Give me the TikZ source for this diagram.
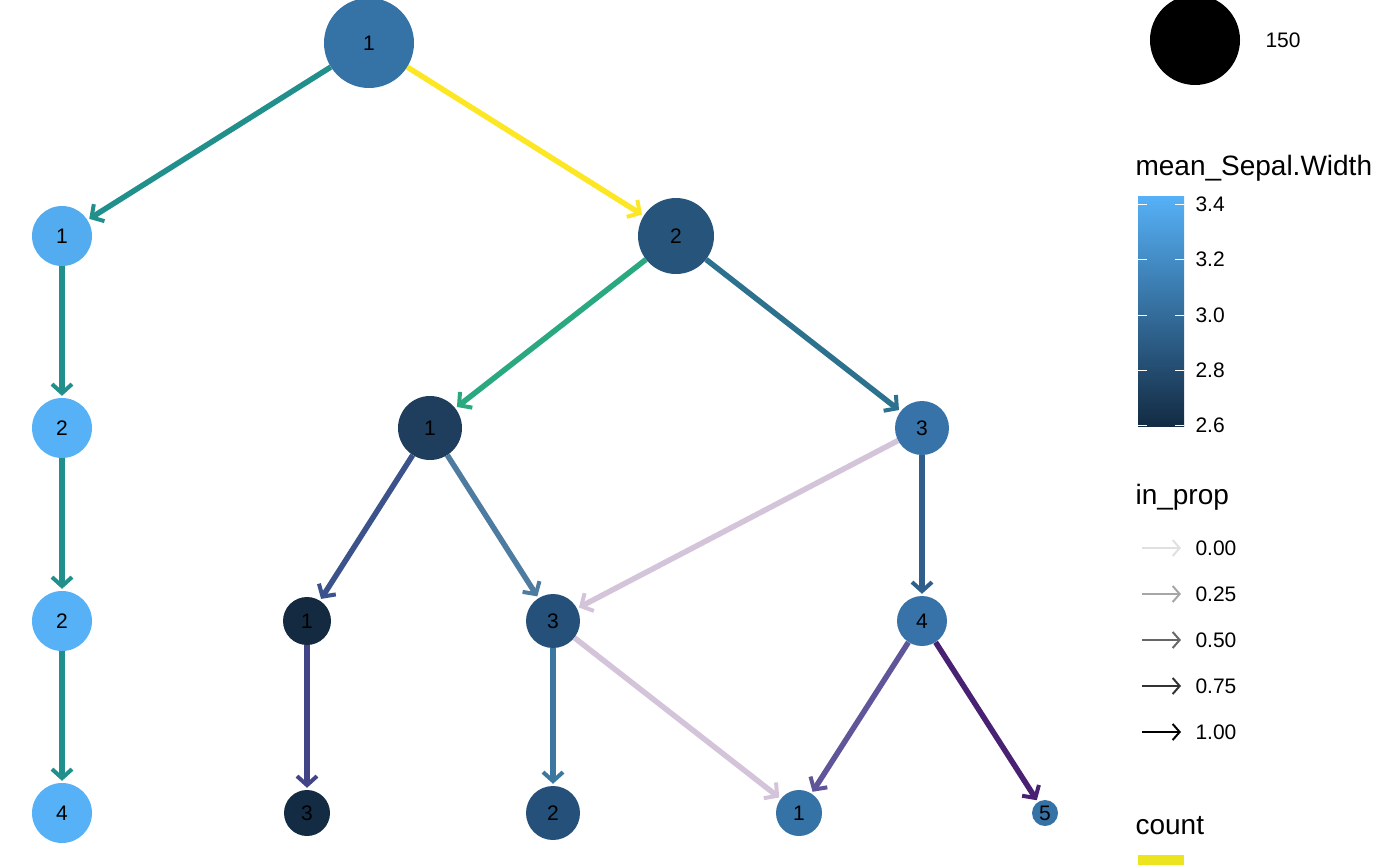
\documentclass[tikz,border=0pt]{standalone}
\usepackage{fontspec}
\setmainfont{Liberation Sans}
\usetikzlibrary{arrows.meta,backgrounds}
\definecolor{ca}{HTML}{3572A5}\definecolor{cl}{HTML}{56B1F7}
\definecolor{nb2}{RGB}{39,84,122}\definecolor{nc2}{RGB}{31,61,92}
\definecolor{nc3}{RGB}{55,115,168}\definecolor{nd2}{RGB}{20,42,64}
\definecolor{nd3}{RGB}{36,80,122}\definecolor{ne2}{RGB}{19,43,67}
\definecolor{eteal}{RGB}{33,144,140}\definecolor{eyel}{RGB}{253,231,37}
\definecolor{egrn}{RGB}{42,168,128}\definecolor{eb23}{RGB}{44,114,142}
\definecolor{ec21}{RGB}{59,82,139}\definecolor{ec23}{RGB}{78,124,160}
\definecolor{elav}{RGB}{212,196,218}\definecolor{ec34}{RGB}{47,95,138}
\definecolor{ed2}{RGB}{65,68,135}\definecolor{ed3}{RGB}{60,119,160}
\definecolor{ed41}{RGB}{95,86,154}\definecolor{ed45}{RGB}{72,33,115}
\definecolor{cyel}{RGB}{236,228,30}
\begin{document}
\begin{tikzpicture}[x=1pt,y=-1pt,
  nd/.style={circle,inner sep=0pt,font=\fontsize{21}{21}\selectfont},
  ed/.style={line width=5.5pt,-{Straight Barb[length=9pt,width=20pt,line width=4pt]},shorten >=2pt},
  lab/.style={anchor=west,font=\fontsize{21}{21}\selectfont},
  ttl/.style={anchor=west,font=\fontsize{28}{28}\selectfont}]
\useasboundingbox (0,0) rectangle (1400,865);
\node[nd,fill=ca,minimum size=90pt] (a) at (369,43) {1};
\node[nd,fill=cl!92!ca,minimum size=60pt] (b1) at (62,236) {1};
\node[nd,fill=nb2,minimum size=76pt] (b2) at (676,236) {2};
\node[nd,fill=cl,minimum size=60pt] (c1) at (62,428) {2};
\node[nd,fill=nc2,minimum size=64pt] (c2) at (430,428) {1};
\node[nd,fill=nc3,minimum size=54pt] (c3) at (922,428) {3};
\node[nd,fill=cl,minimum size=60pt] (d1) at (62,621) {2};
\node[nd,fill=nd2,minimum size=48pt] (d2) at (307,621) {1};
\node[nd,fill=nd3,minimum size=54pt] (d3) at (553,621) {3};
\node[nd,fill=nc3,minimum size=50pt] (d4) at (922,621) {4};
\node[nd,fill=cl,minimum size=60pt] (e1) at (62,813) {4};
\node[nd,fill=ne2,minimum size=46pt] (e2) at (307,813) {3};
\node[nd,fill=nd3,minimum size=54pt] (e3) at (553,813) {2};
\node[nd,fill=ca,minimum size=46pt] (e4) at (799,813) {1};
\node[nd,fill=ca,minimum size=26pt] (e5) at (1045,813) {5};
\begin{scope}[on background layer]
\draw[ed,color=eteal] (a) -- (b1);
\draw[ed,color=eyel] (a) -- (b2);
\draw[ed,color=eteal] (b1) -- (c1);
\draw[ed,color=egrn] (b2) -- (c2);
\draw[ed,color=eb23] (b2) -- (c3);
\draw[ed,color=eteal] (c1) -- (d1);
\draw[ed,color=ec21] (c2) -- (d2);
\draw[ed,color=ec23] (c2) -- (d3);
\draw[ed,color=elav] (c3) -- (d3);
\draw[ed,color=ec34] (c3) -- (d4);
\draw[ed,color=eteal] (d1) -- (e1);
\draw[ed,color=ed2] (d2) -- (e2);
\draw[ed,color=ed3] (d3) -- (e3);
\draw[ed,color=elav] (d3) -- (e4);
\draw[ed,color=ed41] (d4) -- (e4);
\draw[ed,color=ed45] (d4) -- (e5);
\end{scope}
% legend
\node[circle,fill=black,minimum size=90pt,inner sep=0pt] (lc) at (1195,40) {};
\node[lab] (l150) at (1262,40) {150};
\node[ttl] (t1) at (1132,168) {mean\_Sepal.Width};
\shade[top color=cl,bottom color=ne2] (1138,196) rectangle (1184,426);
\foreach \y/\t in {204/3.4,259/3.2,315/3.0,370/2.8,425/2.6}{
  \draw[white,line width=1pt] (1138,\y) -- (1147,\y) (1175,\y) -- (1184,\y);
  \node[lab] at (1192,\y) {\t};}
\node[ttl] (t2) at (1132,497) {in\_prop};
\foreach \y/\t/\g in {548/0.00/12,594/0.25/35,640/0.50/60,686/0.75/80,732/1.00/100}{
  \draw[black!\g,line width=2pt,-{Straight Barb[length=7pt,width=16pt]}] (1142,\y) -- (1181,\y);
  \node[lab] at (1192,\y) {\t};}
\node[ttl] (t3) at (1132,826) {count};
\fill[cyel] (1138,855) rectangle (1184,865);
\end{tikzpicture}
\end{document}
